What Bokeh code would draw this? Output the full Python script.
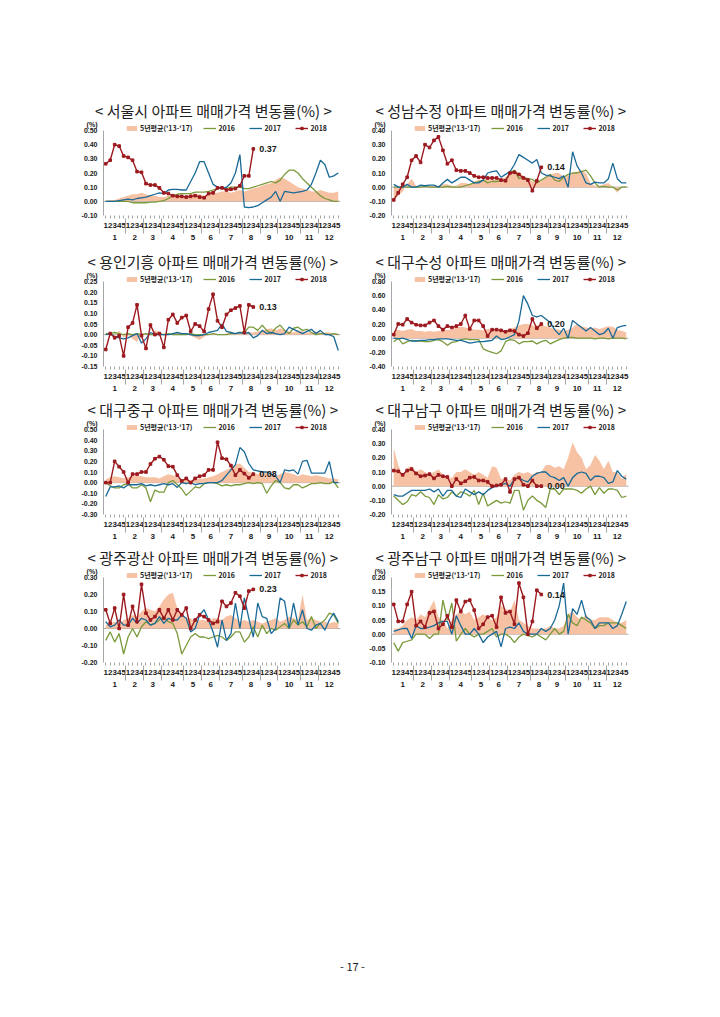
from bokeh.plotting import figure
from bokeh.models import (FactorRange, Range1d, Span, Legend, LegendItem,
                          FixedTicker, NumeralTickFormatter, Spacer)
from bokeh.layouts import row, column
from bokeh.core.properties import value
from bokeh.embed import file_html
from bokeh.resources import INLINE

# ---------------- data ----------------
months = [str(m) for m in range(1, 13)]
weeks_per_month = [5, 4, 4, 5, 4, 4, 5, 4, 4, 5, 4, 5]
legend_labels = ["5년평균('13-'17)", "2016", "2017", "2018"]
unit_label = "(%)"
page_number = "- 17 -"

# 1. 서울시
seoul_title = "< 서울시 아파트 매매가격 변동률(%) >"
seoul_ticks = [-0.10, 0.00, 0.10, 0.20, 0.30, 0.40, 0.50]
seoul_avg = [0.00, 0.01, 0.01, 0.02, 0.03, 0.04, 0.05, 0.05, 0.06, 0.05,
             0.04, 0.04, 0.03, 0.03, 0.04, 0.05, 0.05, 0.04, 0.04, 0.05,
             0.05, 0.05, 0.04, 0.05, 0.06, 0.06, 0.07, 0.07, 0.06, 0.07,
             0.08, 0.07, 0.08, 0.09, 0.10, 0.11, 0.12, 0.13, 0.15, 0.17,
             0.16, 0.14, 0.12, 0.10, 0.09, 0.08, 0.07, 0.07, 0.08, 0.07,
             0.06, 0.06, 0.07]
seoul_2016 = [0.00, 0.00, 0.00, 0.00, 0.00, 0.00, -0.01, -0.01, -0.01, -0.01,
              -0.005, -0.005, 0.00, 0.005, 0.02, 0.04, 0.05, 0.055, 0.055, 0.055,
              0.065, 0.065, 0.065, 0.07, 0.08, 0.09, 0.10, 0.09, 0.10, 0.10,
              0.10, 0.09, 0.09, 0.10, 0.11, 0.12, 0.13, 0.14, 0.13, 0.15,
              0.19, 0.22, 0.22, 0.20, 0.16, 0.13, 0.10, 0.07, 0.04, 0.02,
              0.01, 0.00, 0.00]
seoul_2017 = [0.00, 0.00, 0.00, 0.005, 0.01, 0.015, 0.01, 0.02, 0.025, 0.03,
              0.04, 0.05, 0.06, 0.055, 0.08, 0.085, 0.085, 0.08, 0.08, 0.14,
              0.20, 0.28, 0.28, 0.20, 0.12, 0.10, 0.09, 0.10, 0.13, 0.20,
              0.33, -0.04, -0.045, -0.04, -0.03, -0.01, 0.01, 0.03, 0.07, 0.00,
              0.07, 0.065, 0.06, 0.065, 0.07, 0.08, 0.12, 0.20, 0.29, 0.26,
              0.17, 0.18, 0.20]
seoul_2018 = [0.265, 0.29, 0.40, 0.39, 0.32, 0.31, 0.29, 0.21, 0.205, 0.125,
              0.115, 0.115, 0.095, 0.06, 0.055, 0.04, 0.035, 0.035, 0.03, 0.035,
              0.04, 0.03, 0.025, 0.055, 0.06, 0.095, 0.095, 0.08, 0.085, 0.09,
              0.11, 0.18, 0.18, 0.37]

# 2. 성남수정
sn_title = "< 성남수정 아파트 매매가격 변동률(%) >"
sn_ticks = [-0.20, -0.10, 0.00, 0.10, 0.20, 0.30, 0.40]
sn_avg = [-0.09, -0.06, -0.03, 0.02, 0.06, 0.01, 0.00, 0.01, 0.01, 0.01,
          0.01, 0.02, 0.02, 0.01, 0.01, 0.03, 0.03, 0.02, 0.04, 0.05,
          0.05, 0.06, 0.05, 0.05, 0.06, 0.07, 0.10, 0.12, 0.10, 0.08,
          0.06, 0.04, 0.03, 0.04, 0.07, 0.09, 0.10, 0.10, 0.07, 0.08,
          0.10, 0.11, 0.12, 0.10, 0.03, 0.01, 0.01, 0.02, 0.03, 0.00,
          -0.04, 0.00, 0.01]
sn_2016 = [0.00, 0.00, 0.00, 0.00, 0.00, 0.00, 0.00, 0.005, 0.00, 0.00,
           0.00, 0.00, 0.005, 0.00, 0.00, 0.00, 0.01, 0.02, 0.03, 0.04,
           0.05, 0.03, 0.04, 0.04, 0.045, 0.05, 0.10, 0.12, 0.06, 0.07,
           0.06, 0.055, 0.03, 0.05, 0.07, 0.09, 0.05, 0.04, 0.07, 0.09,
           0.10, 0.10, 0.11, 0.12, 0.08, 0.03, 0.00, 0.005, 0.00, 0.00,
           -0.02, 0.00, 0.00]
sn_2017 = [0.02, 0.00, 0.00, 0.02, 0.00, 0.00, 0.015, 0.01, 0.015, 0.015,
           0.00, 0.03, 0.055, 0.03, 0.05, 0.07, 0.07, 0.05, 0.03, 0.03,
           0.05, 0.10, 0.11, 0.115, 0.07, 0.09, 0.11, 0.16, 0.23, 0.21,
           0.19, 0.17, 0.195, 0.10, 0.085, 0.08, 0.07, 0.06, 0.08, 0.00,
           0.25, 0.15, 0.10, 0.03, 0.02, 0.035, 0.03, 0.03, 0.06, 0.17,
           0.06, 0.03, 0.03]
sn_2018 = [-0.09, -0.04, 0.02, 0.07, 0.19, 0.22, 0.175, 0.30, 0.28, 0.33,
           0.355, 0.26, 0.165, 0.19, 0.12, 0.115, 0.115, 0.10, 0.08, 0.07,
           0.07, 0.065, 0.065, 0.065, 0.05, 0.045, 0.10, 0.105, 0.09, 0.065,
           0.05, -0.025, 0.045, 0.14]

# 3. 용인기흥
yg_title = "< 용인기흥 아파트 매매가격 변동률(%) >"
yg_ticks = [-0.15, -0.10, -0.05, 0.00, 0.05, 0.10, 0.15, 0.20, 0.25]
yg_avg = [0.01, 0.00, -0.01, 0.02, -0.015, 0.00, -0.02, -0.035, 0.01, 0.00,
          0.00, 0.02, 0.015, -0.005, 0.00, 0.005, 0.01, 0.005, 0.00, -0.005,
          -0.015, -0.025, -0.01, 0.00, 0.005, 0.00, 0.00, 0.005, 0.01, 0.005,
          0.005, 0.01, 0.01, 0.01, 0.015, 0.02, 0.025, 0.03, 0.02, 0.03,
          0.02, 0.015, 0.01, 0.02, 0.015, 0.01, 0.01, 0.015, 0.01, 0.01,
          0.01, 0.005, 0.005]
yg_2016 = [0.005, 0.005, 0.01, 0.005, 0.00, 0.005, 0.00, 0.005, 0.00, 0.005,
           0.00, 0.00, 0.005, 0.00, 0.005, 0.00, 0.00, 0.00, 0.00, 0.005,
           0.00, 0.00, 0.00, 0.00, 0.005, 0.00, 0.00, 0.00, 0.005, 0.005,
           0.01, 0.01, 0.035, 0.035, 0.02, 0.045, 0.02, 0.005, 0.03, 0.045,
           0.02, 0.005, 0.03, 0.035, 0.02, 0.025, 0.01, 0.00, 0.005, 0.005,
           0.00, 0.005, 0.00]
yg_2017 = [0.00, 0.005, -0.01, -0.015, -0.02, -0.015, -0.005, 0.005, -0.04, -0.02,
           0.01, 0.00, 0.00, 0.00, 0.00, 0.005, 0.01, 0.005, 0.005, 0.00,
           -0.005, -0.005, 0.00, 0.01, 0.015, 0.02, 0.05, 0.015, 0.01, 0.005,
           0.01, 0.005, 0.01, -0.015, -0.005, 0.02, 0.005, 0.01, 0.005, 0.00,
           0.005, 0.035, 0.025, 0.015, 0.005, 0.015, 0.025, 0.005, 0.02, 0.00,
           0.00, -0.01, -0.075]
yg_2018 = [-0.07, 0.005, -0.015, -0.005, -0.10, 0.035, 0.055, 0.14, -0.005, -0.065,
           0.045, 0.00, 0.005, -0.06, 0.07, 0.095, 0.055, 0.08, 0.09, 0.015,
           0.05, 0.04, 0.015, 0.12, 0.19, 0.065, 0.035, 0.095, 0.115, 0.125,
           0.135, 0.01, 0.14, 0.13]

# 4. 대구수성
ds_title = "< 대구수성 아파트 매매가격 변동률(%) >"
ds_ticks = [-0.40, -0.20, 0.00, 0.20, 0.40, 0.60, 0.80]
ds_avg = [0.10, 0.12, 0.10, 0.12, 0.13, 0.10, 0.10, 0.09, 0.10, 0.09,
          0.10, 0.10, 0.12, 0.12, 0.15, 0.16, 0.15, 0.14, 0.12, 0.12,
          0.11, 0.13, 0.12, 0.10, 0.10, 0.11, 0.13, 0.15, 0.18, 0.20,
          0.20, 0.18, 0.18, 0.19, 0.17, 0.15, 0.13, 0.12, 0.10, 0.12,
          0.15, 0.20, 0.17, 0.15, 0.14, 0.15, 0.13, 0.15, 0.17, 0.16,
          0.12, 0.10, 0.08]
ds_2016 = [-0.05, 0.00, -0.08, -0.05, -0.03, -0.04, -0.04, -0.05, -0.05, -0.03,
           -0.02, -0.05, -0.10, -0.06, -0.05, -0.02, -0.01, -0.02, -0.02, -0.02,
           -0.15, -0.18, -0.20, -0.22, -0.18, -0.05, -0.02, -0.03, -0.08, -0.05,
           -0.05, -0.04, -0.08, -0.05, -0.03, -0.08, -0.05, -0.02, 0.00, 0.01,
           0.01, 0.00, 0.00, 0.00, 0.00, -0.01, 0.00, 0.00, -0.01, 0.00,
           0.00, 0.00, -0.01]
ds_2017 = [0.00, -0.01, 0.00, -0.02, -0.04, -0.04, -0.03, -0.03, -0.02, -0.02,
           -0.01, -0.01, -0.01, -0.02, -0.03, -0.03, -0.05, -0.07, -0.06, -0.05,
           -0.05, -0.04, -0.03, 0.03, -0.02, -0.01, 0.02, 0.05, 0.24, 0.60,
           0.48, 0.32, 0.30, 0.32, 0.27, 0.22, 0.12, 0.05, 0.14, 0.00,
           0.25, 0.20, 0.15, 0.10, 0.15, 0.10, 0.05, 0.07, 0.14, 0.00,
           0.15, 0.17, 0.18]
ds_2018 = [0.05, 0.20, 0.19, 0.27, 0.22, 0.19, 0.18, 0.18, 0.22, 0.25,
           0.17, 0.12, 0.17, 0.15, 0.17, 0.20, 0.32, 0.13, 0.25, 0.25,
           0.17, 0.03, 0.12, 0.12, 0.11, 0.09, 0.11, 0.10, 0.05, 0.03,
           0.07, 0.27, 0.14, 0.20]

# 5. 대구중구
dj_title = "< 대구중구 아파트 매매가격 변동률(%) >"
dj_ticks = [-0.30, -0.20, -0.10, 0.00, 0.10, 0.20, 0.30, 0.40, 0.50]
dj_avg = [0.03, 0.05, 0.06, 0.05, 0.04, 0.05, 0.06, 0.07, 0.06, 0.05,
          0.05, 0.05, 0.04, 0.06, 0.08, 0.07, 0.05, 0.03, 0.03, 0.02,
          0.03, 0.04, 0.04, 0.05, 0.06, 0.08, 0.10, 0.12, 0.14, 0.17,
          0.18, 0.14, 0.10, 0.09, 0.08, 0.10, 0.09, 0.08, 0.06, 0.08,
          0.10, 0.09, 0.08, 0.06, 0.08, 0.07, 0.06, 0.07, 0.06, 0.05,
          0.04, 0.04, 0.03]
dj_2016 = [0.00, -0.03, -0.05, -0.05, -0.02, -0.01, -0.05, -0.05, -0.02, -0.05,
           -0.18, -0.07, -0.09, -0.09, 0.00, 0.02, -0.02, -0.06, -0.12, -0.08,
           -0.04, -0.05, -0.01, 0.00, 0.00, -0.01, -0.03, -0.02, -0.03, -0.02,
           -0.02, -0.01, 0.00, -0.01, 0.00, -0.01, -0.10, -0.03, 0.02, 0.00,
           -0.05, -0.06, -0.02, -0.02, -0.05, -0.03, -0.01, -0.01, 0.00, -0.01,
           -0.01, 0.01, -0.05]
dj_2017 = [-0.13, -0.04, -0.04, -0.03, -0.05, -0.02, -0.02, -0.02, -0.01, -0.03,
           -0.02, -0.03, -0.02, -0.01, -0.02, -0.01, -0.045, 0.00, -0.01, 0.00,
           -0.02, -0.01, -0.01, 0.00, 0.00, 0.00, 0.02, 0.07, 0.12, 0.17,
           0.33, 0.29, 0.18, 0.12, 0.11, 0.10, 0.10, 0.08, 0.06, 0.00,
           0.12, 0.11, 0.12, 0.08, 0.20, 0.21, 0.09, 0.09, 0.09, 0.09,
           0.20, 0.00, 0.00]
dj_2018 = [0.00, 0.00, 0.20, 0.15, 0.10, 0.00, 0.08, 0.08, 0.10, 0.10,
           0.175, 0.225, 0.245, 0.215, 0.155, 0.15, 0.07, 0.015, 0.04, 0.00,
           0.04, 0.06, 0.07, 0.12, 0.12, 0.38, 0.23, 0.22, 0.16, 0.07,
           0.12, 0.085, 0.045, 0.08]

# 6. 대구남구
dn_title = "< 대구남구 아파트 매매가격 변동률(%) >"
dn_ticks = [-0.20, -0.10, 0.00, 0.10, 0.20, 0.30, 0.40]
dn_avg = [0.27, 0.15, 0.08, 0.13, 0.14, 0.10, 0.12, 0.10, 0.08, 0.10,
          0.12, 0.08, 0.06, 0.06, 0.10, 0.10, 0.12, 0.10, 0.08, 0.10,
          0.08, 0.06, 0.14, 0.13, 0.05, 0.05, 0.04, 0.08, 0.10, 0.09,
          0.10, 0.08, 0.10, 0.10, 0.15, 0.15, 0.13, 0.14, 0.12, 0.20,
          0.31, 0.24, 0.20, 0.12, 0.15, 0.22, 0.18, 0.12, 0.18, 0.10,
          0.10, 0.05, 0.09]
dn_2016 = [-0.07, -0.10, -0.13, -0.11, -0.06, -0.07, -0.04, -0.07, -0.08, -0.13,
           -0.06, -0.09, -0.08, -0.04, -0.07, -0.04, -0.05, -0.07, -0.03, -0.13,
           -0.05, -0.14, -0.12, -0.10, -0.12, -0.11, -0.12, -0.03, -0.03, -0.17,
           -0.10, -0.07, -0.10, -0.12, -0.15, -0.02, -0.02, -0.06, -0.02, -0.02,
           -0.02, -0.03, -0.05, -0.02, 0.00, -0.06, -0.01, -0.05, -0.02, -0.02,
           -0.03, -0.08, -0.07]
dn_2017 = [-0.06, -0.07, -0.07, -0.05, -0.03, -0.03, -0.03, -0.03, -0.02, -0.04,
           -0.02, -0.07, -0.03, -0.03, -0.07, -0.08, -0.02, -0.04, -0.06, -0.04,
           -0.06, -0.03, -0.01, 0.00, 0.01, 0.02, 0.00, 0.05, 0.06, 0.04,
           0.03, 0.07, 0.09, 0.10, 0.10, 0.07, 0.06, 0.04, 0.06, 0.00,
           0.06, 0.09, 0.10, 0.09, 0.04, 0.07, 0.07, 0.06, 0.02, 0.03,
           0.11, 0.07, 0.05]
dn_2018 = [0.11, 0.105, 0.08, 0.11, 0.12, 0.09, 0.07, 0.075, 0.085, 0.055,
           0.08, 0.07, 0.065, 0.00, 0.05, 0.02, 0.035, 0.06, 0.065, 0.04,
           0.04, 0.03, 0.00, 0.005, 0.01, 0.05, -0.04, 0.05, 0.06, 0.01,
           0.00, 0.04, 0.00, 0.00]

# 7. 광주광산
gs_title = "< 광주광산 아파트 매매가격 변동률(%) >"
gs_ticks = [-0.20, -0.10, 0.00, 0.10, 0.20, 0.30]
gs_avg = [0.02, 0.03, 0.04, 0.02, 0.05, 0.06, 0.08, 0.07, 0.10, 0.12,
          0.11, 0.10, 0.13, 0.17, 0.20, 0.21, 0.12, 0.09, 0.06, 0.06,
          0.04, 0.05, 0.05, 0.04, 0.06, 0.06, 0.05, 0.07, 0.08, 0.06,
          0.04, 0.05, 0.04, 0.05, 0.04, 0.03, 0.04, 0.05, 0.06, 0.04,
          0.05, 0.07, 0.06, 0.05, 0.20, 0.05, 0.06, 0.05, 0.04, 0.04,
          0.03, 0.04, 0.03]
gs_2016 = [-0.07, -0.02, -0.08, -0.03, -0.15, -0.05, 0.00, -0.05, 0.01, 0.04,
           0.02, 0.03, 0.05, 0.07, 0.04, 0.03, -0.03, -0.15, -0.10, -0.05,
           -0.03, -0.05, -0.05, -0.06, -0.05, -0.04, -0.05, -0.07, -0.05, -0.02,
           -0.02, -0.08, -0.05, 0.01, -0.05, 0.02, -0.03, 0.00, -0.01, 0.01,
           0.03, 0.00, 0.05, 0.02, 0.04, 0.01, 0.07, 0.00, 0.03, 0.05,
           0.09, 0.08, 0.03]
gs_2017 = [0.04, 0.01, 0.02, 0.05, 0.02, 0.02, 0.06, 0.03, 0.06, 0.05,
           0.02, 0.03, 0.07, 0.03, 0.06, 0.05, 0.05, 0.08, 0.06, -0.02,
           0.00, 0.08, 0.11, 0.05, -0.02, -0.11, 0.05, -0.07, -0.03, 0.15,
           0.00, 0.18, 0.06, -0.05, 0.15, 0.07, 0.06, -0.03, 0.00, 0.18,
           0.16, 0.00, 0.15, 0.02, 0.11, 0.00, -0.01, 0.02, 0.03, -0.01,
           0.05, 0.09, 0.04]
gs_2018 = [0.11, 0.03, 0.12, 0.00, 0.20, 0.02, 0.13, 0.04, 0.26, 0.09,
           0.05, 0.07, 0.11, 0.06, 0.11, 0.05, 0.11, 0.08, 0.12, 0.00,
           0.05, 0.08, 0.07, 0.05, 0.03, 0.04, 0.16, 0.13, 0.15, 0.21,
           0.19, 0.12, 0.22, 0.23]

# 8. 광주남구
gn_title = "< 광주남구 아파트 매매가격 변동률(%) >"
gn_ticks = [-0.10, -0.05, 0.00, 0.05, 0.10, 0.15, 0.20]
gn_avg = [0.02, 0.02, 0.03, 0.05, 0.06, 0.05, 0.07, 0.06, 0.09, 0.12,
          0.06, 0.05, 0.02, 0.05, 0.07, 0.08, 0.07, 0.08, 0.05, 0.06,
          0.07, 0.06, 0.05, 0.06, 0.10, 0.09, 0.08, 0.12, 0.05, 0.04,
          0.03, 0.02, 0.02, 0.02, 0.02, 0.03, 0.02, 0.02, 0.03, 0.07,
          0.08, 0.06, 0.05, 0.07, 0.05, 0.05, 0.06, 0.06, 0.06, 0.05,
          0.04, 0.04, 0.05]
gn_2016 = [-0.03, -0.06, -0.03, -0.025, -0.02, 0.00, 0.00, 0.00, -0.015, 0.00,
           0.00, 0.12, 0.05, 0.11, -0.025, 0.00, 0.02, 0.00, -0.01, 0.00,
           0.00, 0.01, 0.02, -0.01, 0.00, 0.00, -0.01, -0.03, -0.01, 0.00,
           -0.005, -0.01, 0.00, -0.01, -0.02, 0.00, 0.02, 0.00, 0.01, 0.07,
           0.04, 0.03, 0.06, 0.05, 0.04, 0.02, 0.03, 0.03, 0.04, 0.04,
           0.04, 0.03, 0.02]
gn_2017 = [0.01, 0.015, 0.02, 0.02, -0.015, 0.03, 0.02, 0.02, 0.025, 0.03,
           0.04, 0.045, 0.045, 0.00, 0.065, 0.03, 0.00, 0.00, 0.02, 0.00,
           -0.03, -0.01, 0.00, 0.01, -0.045, 0.02, 0.025, 0.02, 0.04, 0.01,
           0.00, 0.00, 0.00, 0.02, 0.01, 0.02, 0.05, 0.10, 0.18, 0.00,
           0.09, 0.07, 0.12, 0.06, 0.05, 0.02, 0.04, 0.04, 0.04, 0.02,
           0.03, 0.07, 0.115]
gn_2018 = [0.105, 0.045, 0.045, 0.105, 0.15, 0.03, 0.045, 0.025, 0.075, 0.08,
           0.02, 0.035, 0.065, 0.025, 0.12, 0.08, 0.115, 0.12, 0.085, 0.02,
           0.035, 0.06, 0.065, 0.025, 0.13, 0.075, 0.08, 0.035, 0.18, 0.13,
           0.00, 0.045, 0.155, 0.14]

charts = [
    (seoul_title, seoul_ticks, seoul_avg, seoul_2016, seoul_2017, seoul_2018),
    (sn_title, sn_ticks, sn_avg, sn_2016, sn_2017, sn_2018),
    (yg_title, yg_ticks, yg_avg, yg_2016, yg_2017, yg_2018),
    (ds_title, ds_ticks, ds_avg, ds_2016, ds_2017, ds_2018),
    (dj_title, dj_ticks, dj_avg, dj_2016, dj_2017, dj_2018),
    (dn_title, dn_ticks, dn_avg, dn_2016, dn_2017, dn_2018),
    (gs_title, gs_ticks, gs_avg, gs_2016, gs_2017, gs_2018),
    (gn_title, gn_ticks, gn_avg, gn_2016, gn_2017, gn_2018),
]

# ---------------- style / layout ----------------
AVG_C = "#F7C1A4"
C16 = "#7A9A3C"
C17 = "#1A6A98"
C18 = "#9C1A1F"
AXIS_C = "#A6A6A6"
KR_FONT = "Noto Sans CJK KR"
NUM_FONT = "Liberation Sans"
TITLE_PX = 15

FRAME_W = 237
DATA_H = 85          # pixels between lowest and highest tick
EXTRA = 7            # room above the top tick for the legend
FRAME_H = DATA_H + EXTRA
TOP = 26
BOTTOM = 30
LEFT = 30
FIG_H = TOP + FRAME_H + BOTTOM

factors = [(m, str(w)) for m, n in zip(months, weeks_per_month) for w in range(1, n + 1)]


def title_offset(text):
    n_cjk = sum(1 for ch in text if "\uac00" <= ch <= "\ud7a3")
    width = TITLE_PX * n_cjk + 44
    return FRAME_W / 2 - 7.5 - width / 2


def make_chart(spec, right_border):
    title, ticks, avg, y16, y17, y18 = spec
    n18 = len(y18)
    span = ticks[-1] - ticks[0]
    y_top = ticks[-1] + span * EXTRA / DATA_H
    unit_pos = round(ticks[-1] + span * 6 / DATA_H, 6)

    p = figure(width=LEFT + FRAME_W + right_border, height=FIG_H,
               x_range=FactorRange(factors=factors, factor_padding=0,
                                   group_padding=0, range_padding=0),
               y_range=Range1d(ticks[0], y_top),
               toolbar_location=None, output_backend="svg",
               min_border_left=LEFT, min_border_right=right_border,
               min_border_top=TOP, min_border_bottom=BOTTOM)
    p.outline_line_color = None
    p.xgrid.visible = False
    p.ygrid.visible = False
    p.background_fill_color = "white"

    p.title.text = title
    p.title.align = "left"
    p.title.vertical_align = "top"
    p.title.offset = title_offset(title)
    p.title.text_font = KR_FONT
    p.title.text_font_size = f"{TITLE_PX}px"
    p.title.text_font_style = "normal"
    p.title.text_color = "#222222"
    p.title.standoff = 2

    r_avg = p.varea(x=factors, y1=0, y2=avg, fill_color=AVG_C, fill_alpha=1.0)
    p.add_layout(Span(location=0, dimension="width", line_color=AXIS_C,
                      line_width=1, level="underlay"))
    r16 = p.line(x=factors, y=y16, line_color=C16, line_width=1.3)
    r17 = p.line(x=factors, y=y17, line_color=C17, line_width=1.3)
    r18 = p.line(x=factors[:n18], y=y18, line_color=C18, line_width=1.4)
    r18m = p.scatter(x=factors[:n18], y=y18, marker="square", size=2.6,
                     fill_color=C18, line_color=C18)
    p.text(x=[factors[n18 - 1]], y=[y18[-1]], text=[f"{y18[-1]:.2f}"],
           x_offset=6, text_baseline="middle", text_align="left",
           text_font=value(NUM_FONT), text_font_size="9px",
           text_font_style="bold", text_color="#1a1a1a")

    # y axis (the unit label sits as an extra labelled tick above the top tick)
    ya = p.yaxis[0]
    ya.ticker = FixedTicker(ticks=list(ticks) + [unit_pos])
    ya.formatter = NumeralTickFormatter(format="0.00")
    ya.major_label_overrides = {unit_pos: unit_label}
    ya.major_label_text_font = NUM_FONT
    ya.major_label_text_font_size = "7px"
    ya.major_label_text_font_style = "bold"
    ya.major_label_text_color = "#1a1a1a"
    ya.axis_line_color = AXIS_C
    ya.bounds = (ticks[0], ticks[-1])
    ya.major_tick_line_color = None
    ya.major_tick_out = 0
    ya.major_tick_in = 0
    ya.minor_tick_line_color = None
    ya.major_label_standoff = 6

    # x axis
    xa = p.xaxis[0]
    xa.axis_line_color = None
    xa.major_tick_line_color = AXIS_C
    xa.major_tick_out = 3
    xa.major_tick_in = 0
    xa.minor_tick_line_color = None
    xa.major_label_text_font = NUM_FONT
    xa.major_label_text_font_size = "8px"
    xa.major_label_text_font_style = "bold"
    xa.major_label_text_color = "#1a1a1a"
    xa.major_label_standoff = 4
    xa.major_label_orientation = "horizontal"
    xa.group_text_font = NUM_FONT
    xa.group_text_font_size = "8px"
    xa.group_text_font_style = "bold"
    xa.group_text_color = "#1a1a1a"
    xa.separator_line_color = AXIS_C
    xa.separator_line_width = 1

    legend = Legend(items=[
        LegendItem(label=value(legend_labels[0]), renderers=[r_avg]),
        LegendItem(label=value(legend_labels[1]), renderers=[r16]),
        LegendItem(label=value(legend_labels[2]), renderers=[r17]),
        LegendItem(label=value(legend_labels[3]), renderers=[r18, r18m]),
    ], orientation="horizontal", location=(22, FRAME_H - 10),
        label_text_font=KR_FONT, label_text_font_size="7px",
        label_text_font_style="bold", label_text_color="#1a1a1a",
        glyph_width=13, glyph_height=6, label_height=10, label_standoff=2,
        spacing=11, padding=0, margin=0, border_line_color=None,
        background_fill_alpha=0)
    p.add_layout(legend)
    return p


rows = []
for i in range(4):
    left = make_chart(charts[2 * i], 21)
    right = make_chart(charts[2 * i + 1], 20)
    rows.append(row(Spacer(width=73), left, right))

pn = figure(width=704, height=24, x_range=Range1d(0, 1), y_range=Range1d(0, 1),
            toolbar_location=None, output_backend="svg", min_border=0)
pn.axis.visible = False
pn.grid.visible = False
pn.outline_line_color = None
pn.title.text = page_number
pn.title.align = "center"
pn.title.text_font = KR_FONT
pn.title.text_font_size = "11px"
pn.title.text_font_style = "normal"
pn.title.text_color = "#222222"

page = column(Spacer(height=97), rows[0], Spacer(height=3), rows[1],
              rows[2], rows[3], Spacer(height=262), pn)

open("out.html", "w").write(file_html(page, INLINE))
